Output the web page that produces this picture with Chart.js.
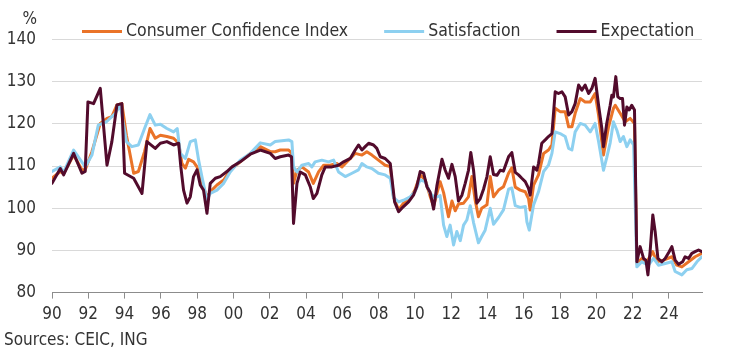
<!DOCTYPE html>
<html>
<head>
<meta charset="utf-8">
<script src="https://cdn.jsdelivr.net/npm/chart.js@4/dist/chart.umd.min.js"></script>
<style>
  html, body { margin: 0; padding: 0; background: #ffffff; }
  #wrap { position: relative; width: 744px; height: 349px; }
  canvas { display: block; }
</style>
</head>
<body>
<div id="wrap"><canvas id="chart" width="744" height="349"></canvas></div>
<script>
// Consumer confidence: headline index plus its two sub-indices, monthly readings (decimal years)
const FONT = '"DejaVu Sans Condensed", "DejaVu Sans", sans-serif';

const seriesLabels = ['Consumer Confidence Index', 'Satisfaction', 'Expectation'];
const seriesColors = ['#EA7328', '#8DD0F0', '#520B2C'];

const yTicks = [80, 90, 100, 110, 120, 130, 140];
const xTickYears = [1990, 1992, 1994, 1996, 1998, 2000, 2002, 2004, 2006, 2008, 2010, 2012, 2014, 2016, 2018, 2020, 2022, 2024];
const xTickLabels = ['90', '92', '94', '96', '98', '00', '02', '04', '06', '08', '10', '12', '14', '16', '18', '20', '22', '24'];

const cciDates = [
  1990.0, 1990.46, 1990.64, 1991.19, 1991.65, 1991.83, 1992.2, 1992.66, 1993.03, 1993.3,
  1993.58, 1993.85, 1994.1, 1994.5, 1994.76, 1995.1, 1995.4, 1995.69, 1995.97, 1996.33,
  1996.7, 1996.98, 1997.16, 1997.35, 1997.53, 1997.8, 1997.99, 1998.26, 1998.54, 1998.81,
  1999.09, 1999.46, 1999.82, 2000.37, 2000.93, 2001.48, 2002.03, 2002.3, 2002.58, 2003.04,
  2003.22, 2003.31, 2003.5, 2003.77, 2004.14, 2004.4, 2004.69, 2004.97, 2005.33, 2005.7,
  2005.98, 2006.34, 2006.71, 2007.08, 2007.35, 2007.63, 2007.99, 2008.36, 2008.64, 2008.82,
  2009.1, 2009.37, 2009.74, 2010.0, 2010.29, 2010.57, 2010.84, 2011.03, 2011.21, 2011.39,
  2011.58, 2011.85, 2012.04, 2012.22, 2012.4, 2012.68, 2012.95, 2013.14, 2013.32, 2013.5,
  2013.68, 2013.97, 2014.15, 2014.33, 2014.61, 2014.88, 2015.16, 2015.34, 2015.53, 2015.8,
  2016.08, 2016.26, 2016.35, 2016.54, 2016.81, 2017.09, 2017.36, 2017.55, 2017.73, 2018.0,
  2018.28, 2018.47, 2018.65, 2018.83, 2019.11, 2019.38, 2019.66, 2019.93, 2020.12, 2020.39,
  2020.67, 2020.94, 2021.04, 2021.31, 2021.59, 2021.86, 2022.1, 2022.23, 2022.5, 2022.78,
  2023.11, 2023.33, 2023.7, 2024.16, 2024.43, 2024.71, 2025.08, 2025.44, 2025.81
];
const cciValues = [
  107.1, 108.7, 108.2, 112.6, 109.1, 109.1, 113.4, 120.1, 121.3, 121.7,
  124.5, 124.8, 117.3, 108.3, 108.7, 113.4, 118.9, 116.6, 117.3, 117.0,
  116.6, 115.4, 110.6, 109.5, 111.6, 111.0, 109.8, 105.9, 102.7, 104.3,
  105.5, 106.7, 109.0, 111.0, 113.0, 114.6, 113.4, 113.4, 113.8, 113.8,
  113.0, 105.9, 109.0, 109.8, 108.6, 105.9, 108.6, 110.2, 110.2, 110.6,
  109.8, 111.4, 113.0, 112.6, 113.4, 112.6, 111.4, 110.2, 109.9, 102.7,
  99.6, 101.2, 102.3, 104.3, 107.9, 106.7, 102.8, 100.5, 103.5, 106.3,
  103.7, 98.0, 101.7, 99.4, 101.0, 101.2, 102.7, 107.5, 101.9, 98.0,
  100.0, 100.8, 107.5, 102.7, 104.3, 105.1, 108.3, 109.6, 105.0, 104.3,
  103.9, 102.3, 99.6, 105.5, 107.9, 113.0, 113.8, 115.0, 123.7, 122.9,
  122.9, 119.3, 119.3, 122.5, 126.0, 125.2, 125.2, 127.2, 122.1, 112.6,
  119.3, 123.7, 124.4, 122.5, 120.5, 121.3, 120.1, 86.9, 88.1, 87.3,
  89.7, 87.3, 87.7, 88.5, 86.5, 86.1, 87.3, 88.5, 89.3
];

const satDates = [
  1990.0, 1990.46, 1990.64, 1991.19, 1991.83, 1992.2, 1992.55, 1993.0, 1993.49, 1993.76,
  1994.1, 1994.4, 1994.76, 1995.1, 1995.4, 1995.69, 1995.97, 1996.33, 1996.7, 1996.9,
  1997.07, 1997.35, 1997.62, 1997.9, 1998.08, 1998.26, 1998.54, 1998.72, 1999.09, 1999.46,
  1999.82, 2000.37, 2000.93, 2001.48, 2002.03, 2002.3, 2003.04, 2003.22, 2003.31, 2003.5,
  2003.77, 2004.14, 2004.32, 2004.5, 2004.87, 2005.24, 2005.52, 2005.79, 2006.16, 2006.53,
  2006.89, 2007.08, 2007.35, 2007.63, 2007.99, 2008.36, 2008.64, 2008.82, 2009.1, 2009.37,
  2009.74, 2010.0, 2010.29, 2010.57, 2010.84, 2011.1, 2011.39, 2011.58, 2011.76, 2011.94,
  2012.13, 2012.31, 2012.5, 2012.68, 2012.86, 2013.05, 2013.23, 2013.5, 2013.68, 2013.87,
  2014.15, 2014.33, 2014.61, 2014.88, 2015.16, 2015.34, 2015.53, 2015.8, 2016.08, 2016.17,
  2016.3, 2016.54, 2016.81, 2017.09, 2017.36, 2017.55, 2017.73, 2018.0, 2018.28, 2018.47,
  2018.65, 2018.83, 2019.11, 2019.38, 2019.66, 2019.93, 2020.12, 2020.39, 2020.57, 2020.76,
  2020.94, 2021.13, 2021.31, 2021.49, 2021.68, 2021.86, 2022.05, 2022.23, 2022.5, 2022.87,
  2023.15, 2023.42, 2023.79, 2024.16, 2024.34, 2024.71, 2024.98, 2025.26, 2025.54, 2025.81
];
const satValues = [
  108.7, 109.8, 108.5, 113.8, 109.8, 112.6, 119.7, 120.5, 122.5, 124.5,
  115.8, 114.6, 115.0, 118.9, 122.2, 119.7, 119.9, 118.9, 118.1, 118.9,
  113.0, 111.8, 115.8, 116.2, 111.4, 107.5, 101.9, 103.5, 104.3, 105.9,
  108.6, 111.4, 113.0, 115.5, 115.0, 115.8, 116.2, 115.8, 109.8, 108.6,
  110.2, 110.6, 109.8, 111.0, 111.4, 111.0, 111.4, 108.6, 107.5, 108.3,
  109.1, 110.6, 109.8, 109.4, 108.3, 107.9, 107.1, 102.5, 101.5, 101.9,
  102.7, 103.9, 106.7, 106.3, 103.5, 102.5, 103.0, 96.0, 93.3, 96.0,
  91.3, 94.5, 92.3, 96.0, 97.2, 100.6, 96.6, 91.8, 93.3, 94.8,
  100.0, 96.2, 97.8, 99.6, 104.5, 104.8, 100.6, 100.2, 100.4, 96.8,
  94.8, 100.8, 103.9, 108.7, 110.2, 113.0, 118.1, 117.7, 117.0, 114.2,
  113.8, 118.1, 120.1, 119.7, 118.1, 120.1, 115.8, 109.0, 112.0, 115.5,
  120.5, 118.5, 115.8, 117.0, 114.6, 116.2, 115.0, 86.1, 87.3, 86.5,
  88.1, 86.5, 86.9, 87.3, 85.0, 84.2, 85.4, 85.7, 87.3, 88.5
];

const expDates = [
  1990.0, 1990.46, 1990.64, 1991.19, 1991.65, 1991.83, 1991.98, 1992.29, 1992.66, 1993.03,
  1993.3, 1993.58, 1993.85, 1994.0, 1994.5, 1994.96, 1995.23, 1995.69, 1995.97, 1996.33,
  1996.7, 1996.98, 1997.1, 1997.25, 1997.44, 1997.62, 1997.8, 1997.99, 1998.17, 1998.35,
  1998.54, 1998.72, 1999.0, 1999.27, 1999.64, 1999.92, 2000.37, 2000.93, 2001.48, 2002.03,
  2002.3, 2002.58, 2003.04, 2003.2, 2003.31, 2003.5, 2003.68, 2003.96, 2004.23, 2004.4,
  2004.6, 2004.87, 2005.06, 2005.43, 2005.79, 2006.07, 2006.44, 2006.71, 2006.89, 2007.08,
  2007.26, 2007.45, 2007.72, 2007.9, 2008.09, 2008.36, 2008.64, 2008.88, 2009.1, 2009.37,
  2009.65, 2009.92, 2010.1, 2010.29, 2010.48, 2010.66, 2010.84, 2011.03, 2011.21, 2011.49,
  2011.67, 2011.85, 2012.04, 2012.22, 2012.4, 2012.59, 2012.77, 2012.95, 2013.08, 2013.23,
  2013.41, 2013.6, 2013.78, 2013.97, 2014.15, 2014.33, 2014.52, 2014.7, 2014.88, 2015.16,
  2015.34, 2015.53, 2015.71, 2015.89, 2016.08, 2016.26, 2016.35, 2016.54, 2016.72, 2016.81,
  2016.99, 2017.18, 2017.36, 2017.55, 2017.73, 2017.91, 2018.1, 2018.28, 2018.47, 2018.65,
  2018.83, 2019.02, 2019.2, 2019.38, 2019.57, 2019.75, 2019.93, 2020.12, 2020.3, 2020.39,
  2020.57, 2020.76, 2020.85, 2020.94, 2021.07, 2021.18, 2021.31, 2021.44, 2021.55, 2021.68,
  2021.81, 2021.95, 2022.1, 2022.23, 2022.41, 2022.6, 2022.73, 2022.84, 2022.96, 2023.11,
  2023.24, 2023.39, 2023.61, 2023.79, 2024.01, 2024.16, 2024.34, 2024.53, 2024.75, 2024.89,
  2025.08, 2025.26, 2025.44, 2025.63, 2025.81
];
const expValues = [
  105.9, 109.4, 107.9, 113.0, 108.3, 108.7, 125.2, 124.8, 128.4, 110.2,
  115.8, 124.5, 124.8, 108.3, 107.1, 103.5, 115.8, 114.2, 115.4, 115.8,
  115.0, 115.4, 109.8, 104.3, 101.2, 102.7, 107.5, 109.1, 105.5, 104.3,
  98.8, 105.9, 107.1, 107.5, 108.7, 109.8, 111.0, 112.8, 113.8, 113.0,
  111.8, 112.2, 112.6, 112.2, 96.4, 105.9, 108.6, 107.9, 105.1, 102.3,
  103.5, 107.9, 109.8, 109.8, 110.2, 111.0, 111.8, 113.8, 115.0, 113.8,
  114.6, 115.4, 115.0, 114.2, 112.2, 111.8, 110.6, 101.5, 99.2, 100.4,
  101.5, 103.1, 105.1, 108.7, 108.3, 105.1, 103.8, 99.8, 105.3, 111.6,
  109.0, 107.1, 110.4, 107.5, 101.7, 103.1, 105.9, 109.0, 113.2, 109.0,
  101.2, 102.3, 104.5, 107.5, 112.2, 108.0, 107.8, 109.0, 108.8, 112.2,
  113.2, 108.5, 107.9, 107.1, 106.3, 104.7, 103.1, 109.8, 109.0, 110.6,
  115.4, 116.2, 117.0, 117.7, 127.6, 127.2, 127.6, 126.4, 122.1, 122.9,
  124.8, 129.2, 128.0, 129.2, 127.2, 128.4, 130.8, 124.4, 118.9, 114.6,
  120.1, 124.4, 126.8, 126.4, 131.2, 126.4, 126.0, 126.0, 119.7, 124.0,
  123.3, 124.4, 123.3, 87.3, 90.9, 88.1, 87.7, 84.2, 89.7, 98.4,
  94.4, 88.1, 87.3, 88.1, 89.7, 90.9, 87.7, 86.7, 87.3, 88.5,
  88.1, 89.3, 89.7, 90.1, 89.7
];

const toPoints = (dates, values) => dates.map((d, i) => ({ x: d, y: values[i] }));

// Legend row, unit label and source line drawn onto the canvas
const annotations = {
  id: 'annotations',
  afterDraw(chart) {
    const ctx = chart.ctx;
    ctx.save();
    ctx.textBaseline = 'middle';
    ctx.font = '17.5px ' + FONT;
    let x = 82;
    const y = 31.5;
    chart.data.datasets.forEach(ds => {
      ctx.strokeStyle = ds.borderColor;
      ctx.lineWidth = 3;
      ctx.beginPath();
      ctx.moveTo(x, y);
      ctx.lineTo(x + 40, y);
      ctx.stroke();
      x += 44;
      ctx.fillStyle = '#333333';
      ctx.textAlign = 'left';
      ctx.fillText(ds.label, x, y);
      x += ctx.measureText(ds.label).width + 36;
    });
    ctx.font = '17px ' + FONT;
    ctx.textAlign = 'right';
    ctx.fillText('%', 37, 20);
    ctx.textAlign = 'left';
    ctx.font = '17px ' + FONT;
    ctx.fillText('Sources: CEIC, ING', 4, 341);
    ctx.restore();
  }
};

new Chart(document.getElementById('chart'), {
  type: 'line',
  data: {
    datasets: [
      { label: seriesLabels[0], data: toPoints(cciDates, cciValues), borderColor: seriesColors[0], order: 3 },
      { label: seriesLabels[1], data: toPoints(satDates, satValues), borderColor: seriesColors[1], order: 2 },
      { label: seriesLabels[2], data: toPoints(expDates, expValues), borderColor: seriesColors[2], order: 1 }
    ]
  },
  options: {
    responsive: false,
    animation: false,
    events: [],
    elements: {
      line: { borderWidth: 3, tension: 0, borderJoinStyle: 'round', borderCapStyle: 'round', fill: false },
      point: { radius: 0 }
    },
    layout: { padding: { left: 0, right: 42, top: 39.5, bottom: 0 } },
    plugins: { legend: { display: false }, tooltip: { enabled: false } },
    scales: {
      x: {
        type: 'linear',
        min: 1990,
        max: 2025.82,
        afterBuildTicks: s => { s.ticks = xTickYears.map(v => ({ value: v })); },
        afterFit: s => { s.height = 56.4; },
        ticks: {
          autoSkip: false,
          maxRotation: 0,
          padding: 6,
          color: '#333333',
          font: { family: FONT, size: 17 },
          callback: v => xTickLabels[xTickYears.indexOf(v)]
        },
        grid: { drawOnChartArea: false, drawTicks: true, tickLength: 6, color: '#8C8C8C' },
        border: { display: true, color: '#8C8C8C', width: 1 }
      },
      y: {
        min: 80,
        max: 140,
        afterBuildTicks: s => { s.ticks = yTicks.map(v => ({ value: v })); },
        afterFit: s => { s.width = 52; },
        ticks: {
          padding: 16,
          color: '#333333',
          font: { family: FONT, size: 17 }
        },
        grid: { color: '#D9D9D9', drawTicks: false },
        border: { display: false }
      }
    }
  },
  plugins: [annotations]
});
</script>
</body>
</html>
